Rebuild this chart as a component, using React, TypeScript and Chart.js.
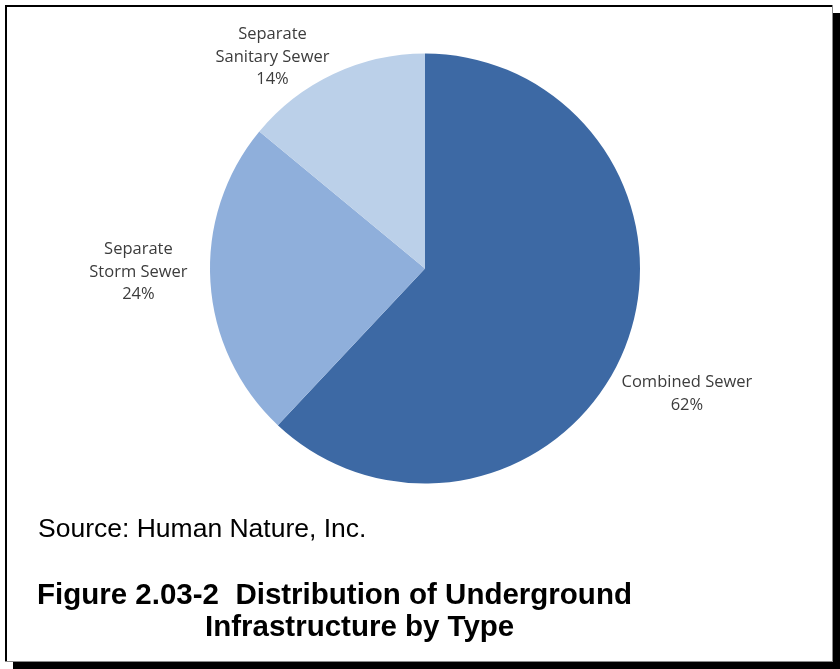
import React, { useEffect, useRef } from "react";
import { Chart, registerables } from "chart.js";

Chart.register(...registerables);

const categories = ["Combined Sewer", "Separate Storm Sewer", "Separate Sanitary Sewer"];
const labelLines = [["Combined Sewer"], ["Separate", "Storm Sewer"], ["Separate", "Sanitary Sewer"]];
const values = [62, 24, 14];
const colors = ["#3D69A4", "#8FAFDB", "#BBD0E9"];
const sourceText = "Source: Human Nature, Inc.";
const captionLines = ["Figure 2.03-2  Distribution of Underground", "Infrastructure by Type"];

const W = 840;
const H = 669;

const labelOffsets = [
  [62, 46],
  [-72, -10],
  [-61, -17],
];

const framePlugin = {
  id: "frame",
  beforeDraw(chart: any) {
    const ctx = chart.ctx;
    ctx.save();
    ctx.fillStyle = "#ffffff";
    ctx.fillRect(0, 0, W, H);
    ctx.fillStyle = "#000000";
    ctx.fillRect(5, 5, 828, 2);
    ctx.fillRect(5, 5, 2, 657);
    ctx.fillRect(833, 13, 7, 656);
    ctx.fillRect(13, 662, 827, 7);
    ctx.fillStyle = "#8a8a8a";
    ctx.fillRect(832, 5, 1, 657);
    ctx.fillRect(5, 661, 828, 1);
    ctx.restore();
  },
  afterDatasetsDraw(chart: any) {
    const ctx = chart.ctx;
    const meta = chart.getDatasetMeta(0);
    ctx.save();
    ctx.fillStyle = "#3c3c3c";
    ctx.font = "16.5px 'Open Sans'";
    ctx.textAlign = "center";
    ctx.textBaseline = "middle";
    meta.data.forEach((arc: any, i: number) => {
      const p = arc.getProps(["x", "y", "startAngle", "endAngle", "outerRadius"], true);
      const mid = (p.startAngle + p.endAngle) / 2;
      const rx = p.x + Math.cos(mid) * p.outerRadius + labelOffsets[i][0];
      const ry = p.y + Math.sin(mid) * p.outerRadius + labelOffsets[i][1];
      const lines = [...labelLines[i], values[i] + "%"];
      const lh = 22.5;
      const top = ry - ((lines.length - 1) * lh) / 2;
      lines.forEach((t, j) => ctx.fillText(t, rx, top + j * lh));
    });
    ctx.fillStyle = "#000000";
    ctx.textAlign = "left";
    ctx.textBaseline = "alphabetic";
    ctx.font = "26.5px 'Liberation Sans'";
    ctx.fillText(sourceText, 38, 537);
    ctx.font = "bold 29.5px 'Liberation Sans'";
    ctx.fillText(captionLines[0], 37, 604);
    ctx.fillText(captionLines[1], 205, 636);
    ctx.restore();
  },
};

export default function App() {
  const ref = useRef<HTMLCanvasElement | null>(null);
  useEffect(() => {
    document.body.style.margin = "0";
    const canvas = ref.current;
    if (!canvas) return;
    const chart = new Chart(canvas, {
      type: "pie",
      data: {
        labels: categories,
        datasets: [
          {
            data: values,
            backgroundColor: colors,
            borderWidth: 0,
          },
        ],
      },
      options: {
        responsive: false,
        maintainAspectRatio: false,
        animation: false,
        devicePixelRatio: 1,
        layout: { padding: { left: 210, right: 200, top: 53, bottom: 185 } },
        plugins: {
          legend: { display: false },
          tooltip: { enabled: false },
        },
      },
      plugins: [framePlugin],
    });
    return () => chart.destroy();
  }, []);
  return (
    <div style={{ width: W, height: H }}>
      <canvas ref={ref} width={W} height={H} style={{ display: "block", width: W, height: H }} />
    </div>
  );
}
